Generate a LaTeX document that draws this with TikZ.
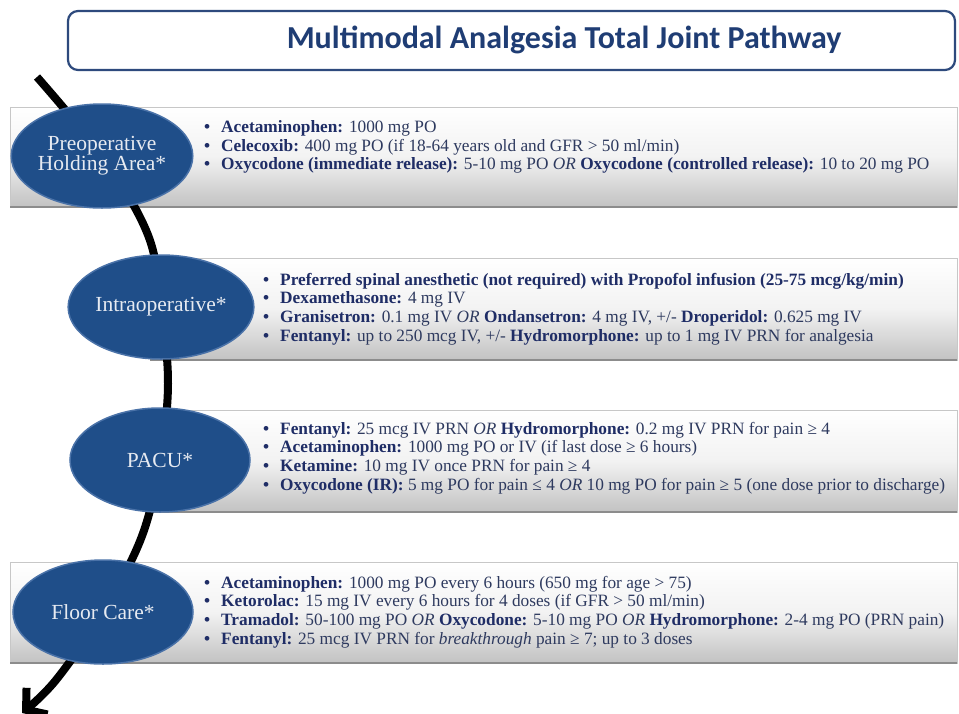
\documentclass[tikz,border=0pt]{standalone}
\usepackage{fontspec}
\setmainfont{Liberation Serif}
\newfontfamily\titlefont{Carlito}
\usetikzlibrary{arrows.meta,shapes.geometric}
\definecolor{titlenavy}{HTML}{1F3D74}
\definecolor{titleborder}{HTML}{2E4A7D}
\definecolor{ellblue}{HTML}{1F4E89}
\definecolor{ellrim}{HTML}{4A72A8}
\definecolor{txtbold}{HTML}{1F2D66}
\definecolor{txtreg}{HTML}{2E3A5F}
\definecolor{elltext}{HTML}{E6EAF1}
\newcommand{\bl}{\makebox[17pt][l]{\textbf{\color{txtbold}\textbullet}}}
\newcommand{\bd}[1]{\textbf{\color{txtbold}#1}}
\tikzset{
  band/.style={top color=white, bottom color=black!24, middle color=white!95!black, draw=black!22, line width=0.8pt},
  bandedge/.style={draw=black!45, line width=1.6pt},
  stage/.style={ellipse, fill=ellblue, draw=ellrim, line width=1.5pt, minimum width=180pt, minimum height=104pt, inner sep=0pt, text=elltext, font=\fontsize{21.5}{20}\selectfont, align=center},
  drugs/.style={anchor=west, align=left, text=txtreg, font=\fontsize{17.3}{18.7}\selectfont, inner sep=0pt},
  titlebox/.style={draw=titleborder, line width=2.2pt, rounded corners=10pt, fill=white},
  pathline/.style={line width=8pt, black, -{Straight Barb[length=14pt,width=34pt]}}
}
\begin{document}
\begin{tikzpicture}[x=1pt,y=-1pt]
\useasboundingbox (0,0) rectangle (959,713);
\fill[white] (0,0) rectangle (959,713);
% title
\draw[titlebox] (68,11) rectangle (955,70);
\node[font=\titlefont\bfseries\fontsize{32}{34}\selectfont, text=titlenavy] (title) at (564,40) {Multimodal Analgesia Total Joint Pathway};
% positions
\coordinate (p0) at (37,77);
\coordinate (p1) at (102,156);
\coordinate (q1) at (148,235);
\coordinate (p2) at (161,307);
\coordinate (q2) at (168,384);
\coordinate (p3) at (160,460);
\coordinate (q3) at (142,536);
\coordinate (p4) at (103,612);
\coordinate (q4) at (56,680);
\coordinate (pend) at (22,713);
% bands
\shade[band] (10,107) rectangle (957,207);
\draw[bandedge] (10,207) -- (957,207);
\shade[band] (150,258) rectangle (957,360);
\draw[bandedge] (150,360) -- (957,360);
\shade[band] (150,410) rectangle (957,512);
\draw[bandedge] (150,512) -- (957,512);
\shade[band] (10,562) rectangle (957,663);
\draw[bandedge] (10,663) -- (957,663);
% pathway line
\draw[pathline] plot[smooth, tension=0.6] coordinates {(p0) (p1) (q1) (p2) (q2) (p3) (q3) (p4) (q4) (pend)};
% stages
\node[stage] (e1) at (p1) {Preoperative\\Holding Area*};
\node[stage] (e2) at (p2) {Intraoperative*};
\node[stage] (e3) at (p3) {PACU*};
\node[stage] (e4) at (p4) {Floor Care*};
% drug lists
\node[drugs] (t1) at (204,147) {%
\bl\bd{Acetaminophen:} 1000 mg PO\\
\bl\bd{Celecoxib:} 400 mg PO (if 18-64 years old and GFR > 50 ml/min)\\
\bl\bd{Oxycodone (immediate release):} 5-10 mg PO \textit{OR} \bd{Oxycodone (controlled release):} 10 to 20 mg PO};
\node[drugs] (t2) at (263,309) {%
\bl\bd{Preferred spinal anesthetic (not required) with Propofol infusion (25-75 mcg/kg/min)}\\
\bl\bd{Dexamethasone:} 4 mg IV\\
\bl\bd{Granisetron:} 0.1 mg IV \textit{OR} \bd{Ondansetron:} 4 mg IV, +/- \bd{Droperidol:} 0.625 mg IV\\
\bl\bd{Fentanyl:} up to 250 mcg IV, +/- \bd{Hydromorphone:} up to 1 mg IV PRN for analgesia};
\node[drugs] (t3) at (263,458) {%
\bl\bd{Fentanyl:} 25 mcg IV PRN \textit{OR} \bd{Hydromorphone:} 0.2 mg IV PRN for pain ≥ 4\\
\bl\bd{Acetaminophen:} 1000 mg PO or IV (if last dose ≥ 6 hours)\\
\bl\bd{Ketamine:} 10 mg IV once PRN for pain ≥ 4\\
\bl\bd{Oxycodone (IR):} 5 mg PO for pain ≤ 4 \textit{OR} 10 mg PO for pain ≥ 5 (one dose prior to discharge)};
\node[drugs] (t4) at (204,612) {%
\bl\bd{Acetaminophen:} 1000 mg PO every 6 hours (650 mg for age > 75)\\
\bl\bd{Ketorolac:} 15 mg IV every 6 hours for 4 doses (if GFR > 50 ml/min)\\
\bl\bd{Tramadol:} 50-100 mg PO \textit{OR} \bd{Oxycodone:} 5-10 mg PO \textit{OR} \bd{Hydromorphone:} 2-4 mg PO (PRN pain)\\
\bl\bd{Fentanyl:} 25 mcg IV PRN for \textit{breakthrough} pain ≥ 7; up to 3 doses};
\end{tikzpicture}
\end{document}
